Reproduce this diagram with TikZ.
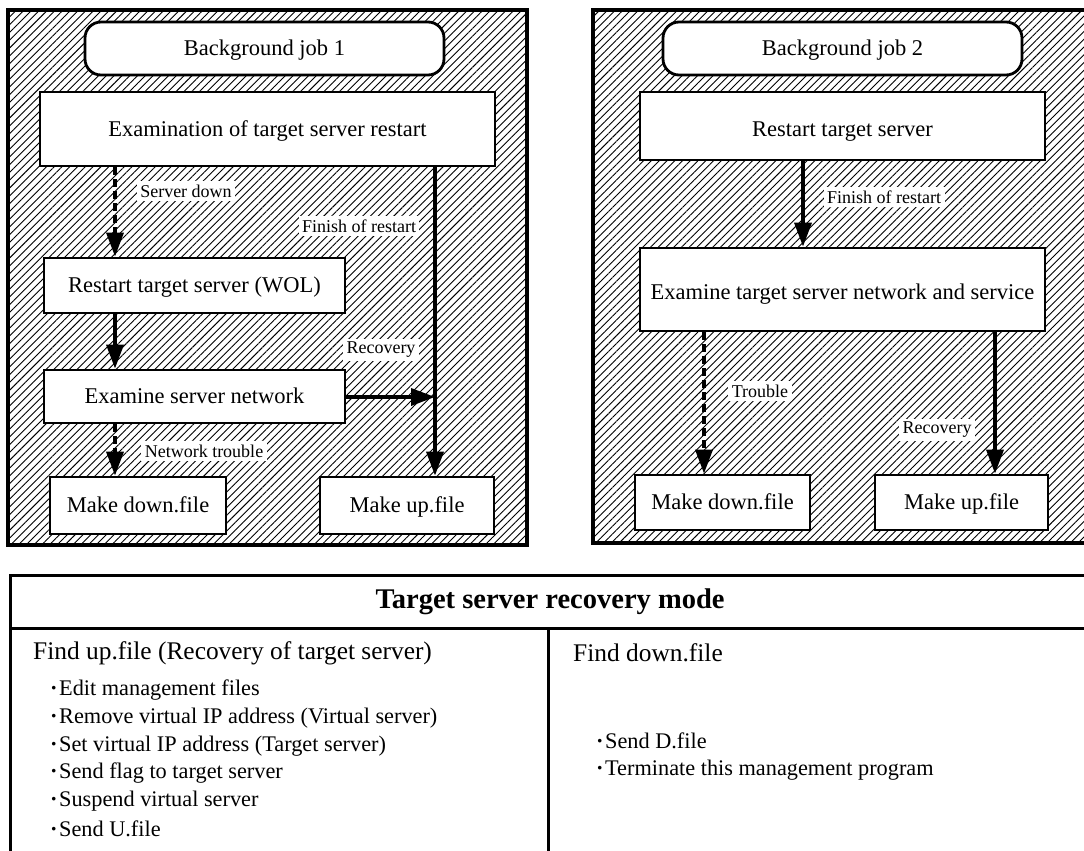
\documentclass[tikz,border=0pt]{standalone}
\usepackage{fontspec}
\setmainfont{Liberation Serif}
\usetikzlibrary{patterns.meta,arrows.meta}

\begin{document}
\begin{tikzpicture}[x=1pt,y=-1pt,
  panel/.style={draw, line width=3.2pt,
    pattern={Lines[angle=45,distance=5.5pt,line width=0.9pt]}},
  box/.style={draw, line width=2.8pt, fill=white, inner sep=0pt,
    text height=17pt, text depth=3pt,
    font=\fontsize{22.5}{26}\selectfont},
  title/.style={box, rounded corners=16pt},
  lbl/.style={fill=white, inner sep=3.5pt, font=\fontsize{18}{21}\selectfont},
  flow/.style={line width=3.6pt, -{Triangle[length=24pt,width=17pt]}},
  flowd/.style={flow, dash pattern=on 8pt off 4pt},
  item/.style={anchor=west, inner sep=0pt, font=\fontsize{22.3}{26}\selectfont},
  head/.style={anchor=west, inner sep=0pt, font=\fontsize{25.4}{29}\selectfont}
]
\clip (0,0) rectangle (1084,851);
\fill[white] (0,0) rectangle (1084,851);
\newcommand{\bul}{{\bfseries ·}\hspace{1.5pt}}

% ---- Background job 1 ----
\draw[panel] (8,10) rectangle (527,545);
\node[title, minimum width=359, minimum height=53] (t1) at (264.5,48.5) {Background job 1};
\node[box, minimum width=455, minimum height=74] (exam) at (267.5,129) {Examination of target server restart};
\node[box, minimum width=301, minimum height=55] (wol) at (194.5,285.5) {Restart target server (WOL)};
\node[box, minimum width=301, minimum height=53] (net) at (194.5,396.5) {Examine server network};
\node[box, minimum width=176, minimum height=57] (down1) at (138,505.5) {Make down.file};
\node[box, minimum width=174, minimum height=57] (up1) at (407,505.5) {Make up.file};
\coordinate (join) at (435,397);

\draw[flowd] (exam.south -| 115,0) -- (wol.north -| 115,0);
\draw[flow] (wol.south -| 115,0) -- (net.north -| 115,0);
\draw[flowd] (net.south -| 115,0) -- (down1.north -| 115,0);
\draw[flow] (exam.south -| join) -- (up1.north -| join);
\draw[flow] (net.east |- join) -- (join);

\node[lbl] (l1) at (186,191) {Server down};
\node[lbl] (l2) at (359,226) {Finish of restart};
\node[lbl] (l3) at (381,350) {Recovery};
\node[lbl] (l4) at (204,451) {Network trouble};

% ---- Background job 2 ----
\draw[panel] (593,10) rectangle (1096,543);
\node[title, minimum width=359, minimum height=53] (t2) at (842.5,48.5) {Background job 2};
\node[box, minimum width=405, minimum height=68, text height=23pt] (rst) at (842.5,126) {Restart target server};
\node[box, minimum width=405, minimum height=83, text height=22pt] (svc) at (842.5,289.5) {Examine target server network and service};
\node[box, minimum width=175, minimum height=55] (down2) at (722.5,502.5) {Make down.file};
\node[box, minimum width=173, minimum height=55] (up2) at (961.5,502.5) {Make up.file};

\draw[flow] (rst.south -| 803,0) -- (svc.north -| 803,0);
\draw[flowd] (svc.south -| 704,0) -- (down2.north -| 704,0);
\draw[flow] (svc.south -| 995,0) -- (up2.north -| 995,0);

\node[lbl] (l5) at (884,197) {Finish of restart};
\node[lbl] (l6) at (760,391) {Trouble};
\node[lbl] (l7) at (937,430) {Recovery};

% ---- Recovery mode table ----
\draw[line width=3pt] (10,575) rectangle (1096,870);
\draw[line width=3pt] (10,628) -- (1096,628);
\draw[line width=3pt] (548,628) -- (548,870);
\node[inner sep=0pt, font=\fontsize{28.5}{32}\selectfont\bfseries] (hd) at (550,602) {Target server recovery mode};

\node[head] (fu) at (33,653) {Find up.file (Recovery of target server)};
\node[item] (u1) at (50,690) {\bul Edit management files};
\node[item] (u2) at (50,718) {\bul Remove virtual IP address (Virtual server)};
\node[item] (u3) at (50,746) {\bul Set virtual IP address (Target server)};
\node[item] (u4) at (50,773) {\bul Send flag to target server};
\node[item] (u5) at (50,801) {\bul Suspend virtual server};
\node[item] (u6) at (50,829) {\bul Send U.file};

\node[head] (fd) at (573,653) {Find down.file};
\node[item] (d1) at (596,741) {\bul Send D.file};
\node[item] (d2) at (596,770) {\bul Terminate this management program};
\end{tikzpicture}
\end{document}
